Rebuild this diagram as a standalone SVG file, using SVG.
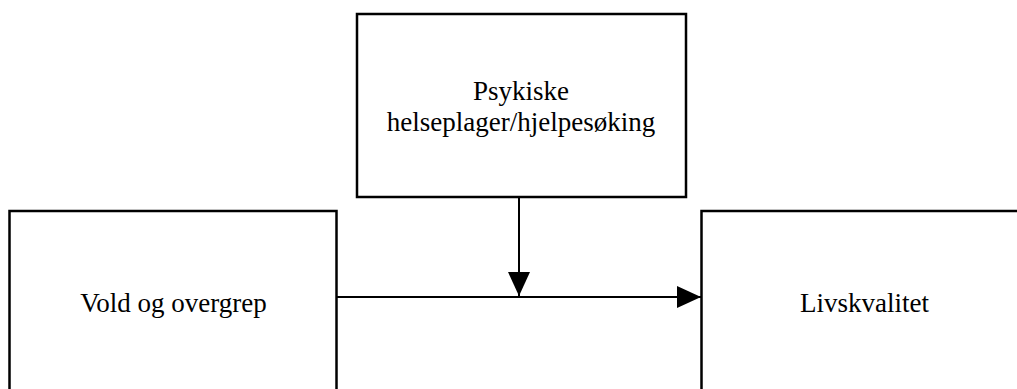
<svg xmlns="http://www.w3.org/2000/svg" width="1017" height="389" viewBox="0 0 1017 389">
<style>
.box{fill:#fff;stroke:#000;stroke-width:2.5}
.lbl{font-family:"Liberation Serif","Times New Roman",serif;font-size:27px;fill:#000;text-anchor:middle}
.con{stroke:#000;stroke-width:2;fill:none}
</style>
<defs>
<marker id="ah" viewBox="0 0 24 22" refX="24" refY="11" markerWidth="24" markerHeight="22" markerUnits="userSpaceOnUse" orient="auto">
<path d="M0,0 L24,11 L0,22 Z" fill="#000"/>
</marker>
</defs>
<rect width="1017" height="389" fill="#fff"/>
<g id="node-psykiske">
<rect class="box" x="357" y="14" width="329" height="183"/>
<text class="lbl" x="521" y="100">Psykiske</text>
<text class="lbl" x="521" y="131">helseplager/hjelpesøking</text>
</g>
<g id="node-vold">
<rect class="box" x="9.5" y="211" width="327" height="190"/>
<text class="lbl" x="173.5" y="312">Vold og overgrep</text>
</g>
<g id="node-livskvalitet">
<rect class="box" x="701.5" y="211" width="330" height="190"/>
<text class="lbl" x="864.5" y="312">Livskvalitet</text>
</g>
<g id="connectors">
<line class="con" x1="337" y1="297" x2="701" y2="297" marker-end="url(#ah)"/>
<line class="con" x1="519" y1="198" x2="519" y2="296" marker-end="url(#ah)"/>
</g>
</svg>
